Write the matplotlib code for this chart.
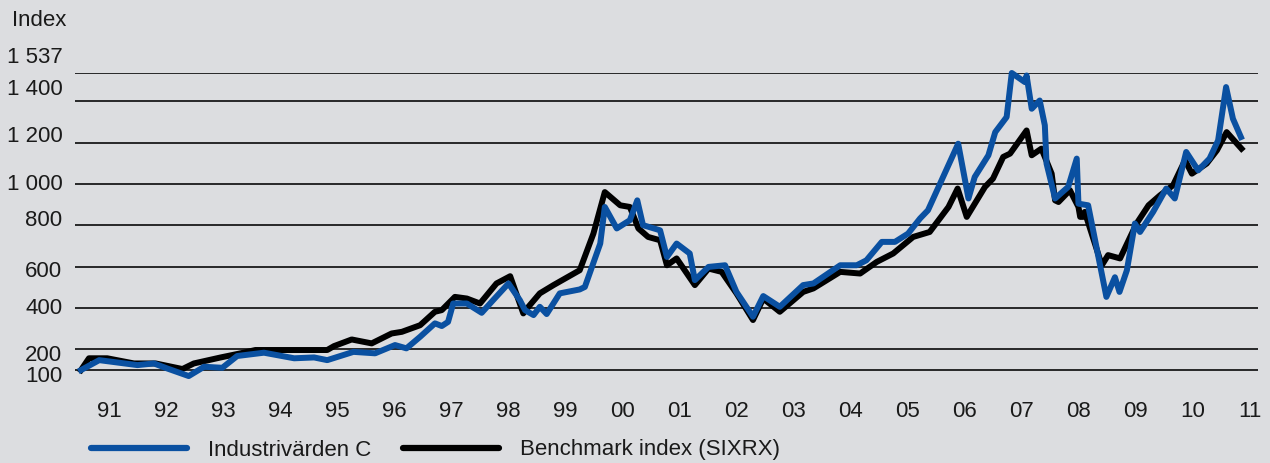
import matplotlib
matplotlib.use("Agg")
import matplotlib.pyplot as plt
from matplotlib.transforms import ScaledTranslation

# ---- data ----
ind_years = [1991.00, 1991.32, 1991.99, 1992.28, 1992.51, 1992.89, 1993.16, 1993.48, 1993.74,
             1994.21, 1994.74, 1995.09, 1995.32, 1995.78, 1996.16, 1996.51, 1996.71, 1996.95,
             1997.21, 1997.33, 1997.44, 1997.53, 1997.77, 1998.03, 1998.23, 1998.50, 1998.70,
             1998.79, 1998.94, 1999.05, 1999.17, 1999.40, 1999.75, 1999.84, 2000.11, 2000.19,
             2000.40, 2000.63, 2000.76, 2000.86, 2001.16, 2001.28, 2001.45, 2001.68, 2001.77,
             2002.01, 2002.30, 2002.50, 2002.79, 2002.97, 2003.26, 2003.67, 2003.85, 2004.32,
             2004.61, 2004.78, 2005.05, 2005.28, 2005.51, 2005.72, 2005.86, 2006.39, 2006.57,
             2006.68, 2006.92, 2007.04, 2007.24, 2007.33, 2007.56, 2007.59, 2007.68, 2007.82,
             2007.91, 2007.94, 2008.09, 2008.32, 2008.47, 2008.50, 2008.67, 2008.99, 2009.14,
             2009.22, 2009.35, 2009.49, 2009.58, 2009.81, 2010.04, 2010.19, 2010.39, 2010.60,
             2010.80, 2010.95, 2011.09, 2011.21, 2011.35]
industrivarden_c = [100, 148, 124, 132, 108, 71, 116, 111, 168,
                    184, 157, 161, 148, 188, 181, 221, 205, 261,
                    326, 313, 333, 422, 422, 377, 438, 519, 438,
                    390, 366, 406, 371, 471, 490, 502, 712, 889,
                    785, 825, 921, 801, 776, 647, 712, 664, 535,
                    599, 607, 478, 358, 458, 406, 511, 519, 607,
                    607, 631, 720, 720, 760, 833, 873, 1195, 930,
                    1034, 1139, 1251, 1324, 1537, 1493, 1525, 1364, 1404,
                    1284, 1099, 930, 986, 1123, 905, 897, 454, 549,
                    478, 583, 809, 768, 865, 978, 930, 1155, 1066,
                    1123, 1211, 1469, 1316, 1227]

bm_years = [1991.00, 1991.14, 1991.46, 1991.93, 1992.31, 1992.78, 1992.98, 1993.45, 1993.80,
            1994.06, 1994.39, 1995.32, 1995.44, 1995.75, 1996.10, 1996.45, 1996.63, 1996.95,
            1997.21, 1997.33, 1997.56, 1997.77, 1998.00, 1998.29, 1998.53, 1998.76, 1998.85,
            1999.05, 1999.29, 1999.75, 1999.99, 2000.19, 2000.46, 2000.63, 2000.78, 2000.95,
            2001.16, 2001.28, 2001.45, 2001.77, 2002.01, 2002.24, 2002.50, 2002.79, 2002.97,
            2003.26, 2003.67, 2003.85, 2004.32, 2004.67, 2004.96, 2005.25, 2005.60, 2005.89,
            2006.22, 2006.38, 2006.54, 2006.86, 2007.00, 2007.18, 2007.30, 2007.59, 2007.68,
            2007.85, 2007.91, 2008.03, 2008.09, 2008.15, 2008.35, 2008.50, 2008.53, 2008.58,
            2008.61, 2008.91, 2009.02, 2009.23, 2009.52, 2009.73, 2009.93, 2010.16, 2010.37,
            2010.49, 2010.75, 2010.93, 2011.10, 2011.36]
benchmark_sixrx = [100, 157, 157, 132, 132, 105, 132, 161, 181,
                   197, 197, 197, 216, 248, 229, 277, 285, 317,
                   382, 390, 454, 446, 422, 519, 554, 374, 406,
                   471, 511, 583, 760, 961, 897, 889, 785, 744,
                   728, 607, 640, 511, 591, 575, 471, 342, 446,
                   382, 478, 495, 575, 567, 623, 664, 744, 768,
                   889, 978, 841, 986, 1026, 1131, 1147, 1259, 1139,
                   1171, 1131, 1050, 921, 913, 970, 889, 841, 841,
                   865, 607, 656, 640, 809, 897, 945, 994, 1115,
                   1050, 1099, 1163, 1251, 1171]

y_ticks = [100, 200, 400, 600, 800, 1000, 1200, 1400, 1537]
y_tick_labels = ["100", "200", "400", "600", "800", "1 000", "1 200", "1 400", "1 537"]
x_tick_labels = ["91", "92", "93", "94", "95", "96", "97", "98", "99", "00",
                 "01", "02", "03", "04", "05", "06", "07", "08", "09", "10", "11"]
series_names = ["Industrivärden C", "Benchmark index (SIXRX)"]

# ---- style ----
BG = "#dcdde0"
BLUE = "#0a50a1"
TXT = "#1a1a1a"
plt.rcParams["font.family"] = ["Liberation Sans", "DejaVu Sans"]
FS = 16

fig = plt.figure(figsize=(12.70, 4.63), dpi=100, facecolor=BG)
ax = fig.add_axes([75 / 1270, 1 - 380.4 / 463, (1258 - 75) / 1270, (380.4 - 73) / 463])
ax.set_facecolor(BG)

for v in y_ticks:
    ax.axhline(v, color=TXT, lw=1.3, zorder=1)

ax.plot(bm_years, benchmark_sixrx, color="black", lw=4.3, zorder=3,
        label=series_names[1], clip_on=False)
ax.plot(ind_years, industrivarden_c, color=BLUE, lw=4.3, zorder=4,
        label=series_names[0], clip_on=False)

ax.set_xlim(1990.895, 2011.65)
ax.set_ylim(50, 1537)

xt = [1991.5 + i for i in range(len(x_tick_labels))]
ax.set_xticks(xt)
ax.set_xticklabels(x_tick_labels, fontsize=FS, color=TXT)
ax.set_yticks(y_ticks)
ax.set_yticklabels(y_tick_labels, fontsize=FS, color=TXT)
ax.tick_params(axis="both", length=0)
ax.tick_params(axis="x", pad=15)
ax.tick_params(axis="y", pad=9)
for s in ax.spines.values():
    s.set_visible(False)

# individual vertical nudges of y labels (pixels, positive = up)
nudges = [-4, -4, 2, -2, 7, 2, 9, 14, 18]
for lab, dy in zip(ax.get_yticklabels(), nudges):
    lab.set_transform(lab.get_transform() + ScaledTranslation(0, dy / 100, fig.dpi_scale_trans))

fig.text(12 / 1270, 1 - 20 / 463, "Index", fontsize=FS, color=TXT,
         ha="left", va="center")

h, l = ax.get_legend_handles_labels()
leg = fig.legend([h[1], h[0]], [l[1], l[0]], loc="center left",
                 bbox_to_anchor=(91 / 1270, 1 - 450 / 463), ncol=2, frameon=False,
                 fontsize=FS, handlelength=4.3, handletextpad=0.95, columnspacing=1.45,
                 borderpad=0, borderaxespad=0)
for t in leg.get_texts():
    t.set_color(TXT)
for ln in leg.get_lines():
    ln.set_linewidth(4.5)
    ln.set_solid_capstyle("round")

fig.savefig("out.png", dpi=100, facecolor=BG)
